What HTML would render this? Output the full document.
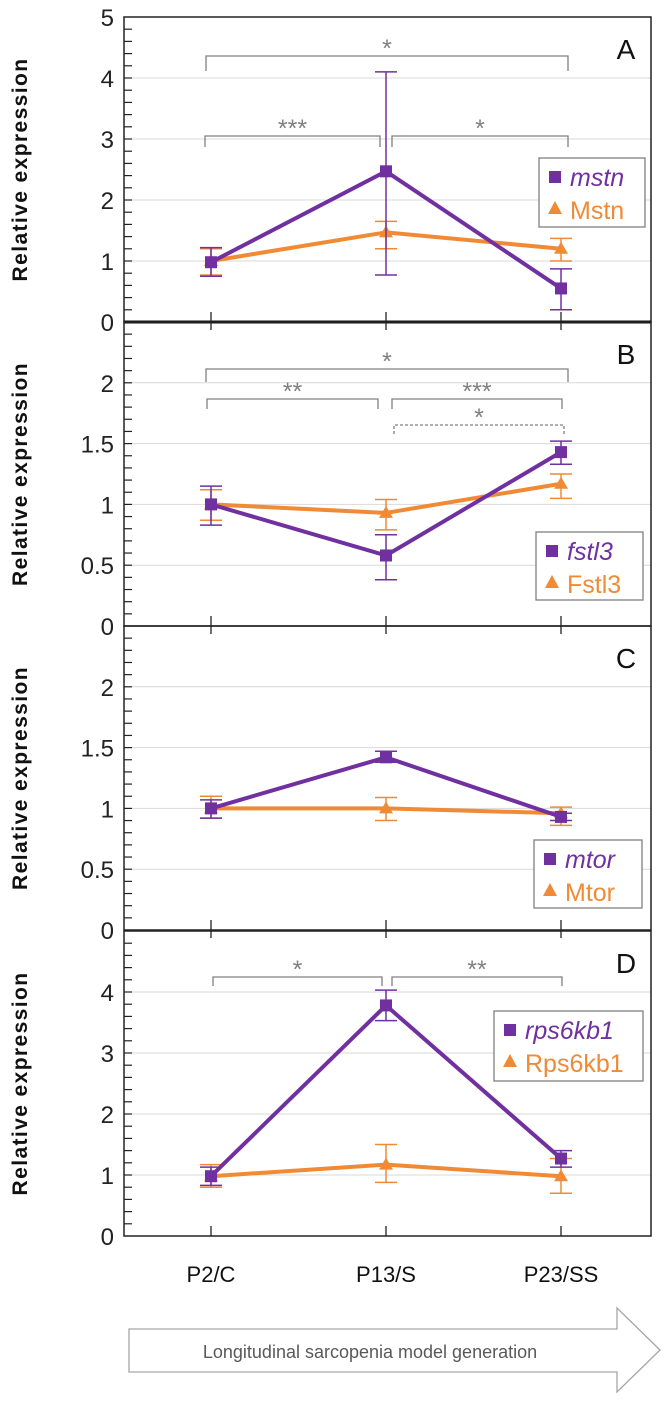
<!DOCTYPE html>
<html><head><meta charset="utf-8"><style>
body{margin:0;background:#fff}
svg{display:block;font-family:"Liberation Sans",sans-serif}
</style></head><body>
<svg id="chart" width="665" height="1401" viewBox="0 0 665 1401"></svg>
<script>
const categories=["P2/C","P13/S","P23/SS"];
const mstnVals=[0.98,2.47,0.55], mstnHi=[1.22,4.1,0.87], mstnLo=[0.75,0.77,0.2];
const MstnVals=[1.0,1.47,1.2], MstnHi=[1.2,1.65,1.37], MstnLo=[0.77,1.2,1.0];
const fstl3Vals=[1.0,0.58,1.43], fstl3Hi=[1.15,0.75,1.52], fstl3Lo=[0.83,0.38,1.33];
const Fstl3Vals=[1.0,0.93,1.17], Fstl3Hi=[1.12,1.04,1.25], Fstl3Lo=[0.87,0.79,1.05];
const mtorVals=[1.0,1.42,0.93], mtorHi=[1.07,1.47,0.96], mtorLo=[0.92,1.38,0.9];
const MtorVals=[1.0,1.0,0.96], MtorHi=[1.1,1.09,1.01], MtorLo=[0.92,0.9,0.86];
const rpsVals=[0.98,3.78,1.27], rpsHi=[1.13,4.03,1.4], rpsLo=[0.83,3.53,1.13];
const RpsVals=[0.98,1.17,0.98], RpsHi=[1.17,1.5,1.27], RpsLo=[0.8,0.88,0.7];
const ticksA=[0,1,2,3,4,5], ticksB=[0,0.5,1,1.5,2], ticksD=[0,1,2,3,4];

const NS="http://www.w3.org/2000/svg", svg=document.getElementById('chart');
const PUR="#7030a0", ORA="#f08a35", GR="#808080";
function mk(t,a,p){const e=document.createElementNS(NS,t);for(const k in a)e.setAttribute(k,a[k]);(p||svg).appendChild(e);return e;}
const XL=124, XR=651;
const xPos=[211,386,561];
function x(i){return xPos[i];}

const panels=[
 {name:'a',top:17,bot:322,max:5,ticks:ticksA,minor:0.2,letter:'A',
  s1:[mstnVals,mstnHi,mstnLo,'mstn'],s2:[MstnVals,MstnHi,MstnLo,'Mstn'],leg:[539,158,106,69],
  br:[[206,568,56,71,'*',false],[205,380,136,147,'***',false],[392,568,136,147,'*',false]]},
 {name:'b',top:322,bot:626,max:2.5,ticks:ticksB,minor:0.1,letter:'B',
  s1:[fstl3Vals,fstl3Hi,fstl3Lo,'fstl3'],s2:[Fstl3Vals,Fstl3Hi,Fstl3Lo,'Fstl3'],leg:[536,532,107,68],
  br:[[206,568,369,382,'*',false],[207,378,399,409,'**',false],[392,562,399,409,'***',false],[394,564,425,434,'*',true]]},
 {name:'c',top:626,bot:930,max:2.5,ticks:ticksB,minor:0.1,letter:'C',
  s1:[mtorVals,mtorHi,mtorLo,'mtor'],s2:[MtorVals,MtorHi,MtorLo,'Mtor'],leg:[534,840,108,68],br:[]},
 {name:'d',top:931,bot:1236,max:5,ticks:ticksD,minor:0.2,letter:'D',
  s1:[rpsVals,rpsHi,rpsLo,'rps6kb1'],s2:[RpsVals,RpsHi,RpsLo,'Rps6kb1'],leg:[494,1011,149,70],
  br:[[213,382,977,986,'*',false],[392,562,977,986,'**',false]]}
];

panels.forEach(p=>{
 const g=mk('g',{});  
 const y=v=>p.bot-(v/p.max)*(p.bot-p.top);
 p.ticks.forEach(t=>{
  if(t>0){const l=mk('line',{x1:XL,x2:XR,y1:y(t),y2:y(t),stroke:'#d9d9d9','stroke-width':1},g);
    }
  const tx=mk('text',{x:114,y:y(t)+9,'font-size':24,'text-anchor':'end',fill:'#222'},g);
  tx.textContent=String(t);  
 });
 for(let v=p.minor;v<p.max-1e-6;v+=p.minor){mk('line',{x1:XL,x2:XL+8,y1:y(v),y2:y(v),stroke:'#222','stroke-width':1.2},g);}
 const fr=mk('rect',{x:XL,y:p.top,width:XR-XL,height:p.bot-p.top,fill:'none',stroke:'#222','stroke-width':1.5},g);
  
 if(p.name==='a') mk('line',{x1:XL,x2:XR,y1:p.bot,y2:p.bot,stroke:'#111','stroke-width':3},g);
 xPos.forEach(xx=>mk('line',{x1:xx,x2:xx,y1:p.bot-10,y2:p.bot+(p.name==='d'?0:8),stroke:'#222','stroke-width':1.3},g));
 const yt=mk('text',{transform:`translate(27,${(p.top+p.bot)/2}) rotate(-90)`,'font-size':21,'font-weight':'bold','letter-spacing':1.4,'text-anchor':'middle',fill:'#111'},g);
 yt.textContent='Relative expression';  
 const lt=mk('text',{x:626,y:p.top+42,'font-size':28,'text-anchor':'middle',fill:'#111'},g);
 lt.textContent=p.letter;  
 p.br.forEach(b=>{
  const pa=mk('path',{d:`M${b[0]},${b[3]}V${b[2]}H${b[1]}V${b[3]}`,fill:'none',stroke:GR,'stroke-width':1.3,'stroke-dasharray':b[5]?'3,2':'none'},g);
   
  const st=mk('text',{x:(b[0]+b[1])/2,y:b[2]+1,'font-size':25,'text-anchor':'middle',fill:GR},g);
  st.textContent=b[4];  
 });
 [[p.s2,ORA,'tri'],[p.s1,PUR,'sq']].forEach(([s,c,m])=>{
  const [vals,hi,lo,nm]=s;
  s[0].forEach((v,i)=>{
   const eb=mk('path',{d:`M${x(i)},${y(hi[i])}V${y(lo[i])}M${x(i)-11},${y(hi[i])}h22M${x(i)-11},${y(lo[i])}h22`,stroke:c,'stroke-width':1.5,fill:'none'},g);
    
  });
  const ln=mk('polyline',{points:vals.map((v,i)=>x(i)+','+y(v)).join(' '),fill:'none',stroke:c,'stroke-width':4},g);
   
  vals.forEach((v,i)=>{
   const X=x(i),Y=y(v);
   const mm = m==='sq'? mk('rect',{x:X-6,y:Y-6,width:12,height:12,fill:c},g)
     : mk('path',{d:`M${X},${Y-7}L${X+7},${Y+5}L${X-7},${Y+5}Z`,fill:c},g);
    
  });
 });
 const [lx,ly,lw,lh]=p.leg;
 const lg=mk('g',{},g);  
 mk('rect',{x:lx,y:ly,width:lw,height:lh,fill:'#fff',stroke:'#7f7f7f','stroke-width':1.3},lg);
 mk('rect',{x:lx+10,y:ly+13,width:12,height:12,fill:PUR},lg);
 const t1=mk('text',{x:lx+31,y:ly+28,'font-size':25,'font-style':'italic',fill:PUR},lg); t1.textContent=p.s1[3];
  
 mk('path',{d:`M${lx+16},${ly+43}L${lx+23},${ly+56}L${lx+9},${ly+56}Z`,fill:ORA},lg);
 const t2=mk('text',{x:lx+31,y:ly+61,'font-size':25,fill:ORA},lg); t2.textContent=p.s2[3];
  
});
categories.forEach((c,i)=>{
 const t=mk('text',{x:x(i),y:1282,'font-size':22,'text-anchor':'middle',fill:'#111'});
 t.textContent=c;  
});
const ar=mk('path',{d:'M129,1329H617V1308L660,1350L617,1392V1372H129Z',fill:'#fff',stroke:'#a6a6a6','stroke-width':1.3});
 
const at=mk('text',{x:370,y:1358,'font-size':18,'text-anchor':'middle',fill:'#595959'});
at.textContent='Longitudinal sarcopenia model generation';
 
</script>
</body></html>
